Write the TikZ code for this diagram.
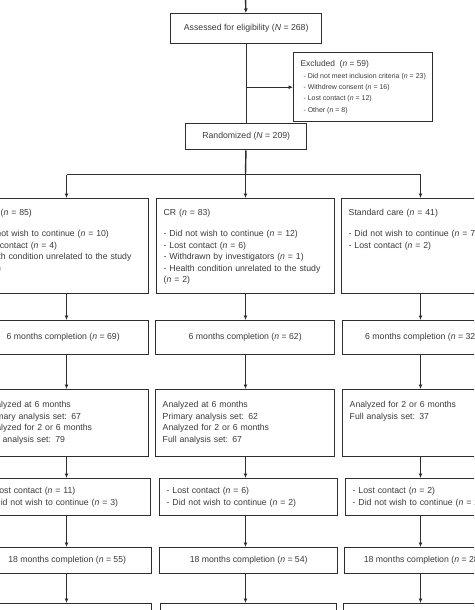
\documentclass[tikz,border=0pt]{standalone}
\usepackage{fontspec}
\setmainfont{Liberation Sans}
\usetikzlibrary{arrows.meta,positioning}
\definecolor{linegray}{HTML}{2E2E2E}
\definecolor{textgray}{HTML}{3A3A3A}
\newcommand{\cnt}[1]{(\textit{n} = #1)}
\newcommand{\Cnt}[1]{(\textit{N} = #1)}

\begin{document}
\begin{tikzpicture}[
  x=1pt, y=-1pt,
  box/.style={rectangle, draw=linegray, line width=1.4pt, text=textgray, inner sep=0pt, anchor=north west, font=\fontsize{8.7}{11.5}\selectfont},
  cbox/.style={box, minimum width=#1, align=center},
  lbox/.style={box, inner xsep=7pt, text width={#1-14pt}, align=left},
  line/.style={draw=linegray, line width=1.4pt},
  link/.style={line, -{Latex[length=4.5pt,width=4pt]}}
]
\useasboundingbox (0,0) rectangle (474,610);
\clip (0,0) rectangle (474,610);

% columns
\coordinate (colA) at (66.5,0);
\coordinate (colB) at (245.5,0);
\coordinate (colC) at (420.5,0);

% enrolment
\coordinate (entry) at (245.5,-5);
\node[cbox=151pt, minimum height=30pt] (assess) at (170,13) {Assessed for eligibility \Cnt{268}};
\node[box, align=left, minimum width=139pt, minimum height=69pt, font=\fontsize{7}{11.4}\selectfont] (excl) at (293,52)
  {{\fontsize{8.4}{11}\selectfont Excluded\ \ \cnt{59}}\\
   \hspace*{3pt}- Did not meet inclusion criteria \cnt{23}\\
   \hspace*{3pt}- Withdrew consent \cnt{16}\\
   \hspace*{3pt}- Lost contact \cnt{12}\\
   \hspace*{3pt}- Other \cnt{8}};
\node[cbox=121pt, minimum height=26pt] (rand) at (185,123) {Randomized \Cnt{209}};
\coordinate (split) at (245.5,174.5);

% withdrawals
\node[lbox=181pt, text height=17pt, text depth=78pt] (wdA) at (-33,198)
  {\hspace*{26pt}\cnt{85}\\[9.5pt]
   - Did not wish to continue \cnt{10}\\
   - Lost contact \cnt{4}\\
   - Health condition unrelated to the study\\
   \cnt{2}};
\node[lbox=178pt, text height=17pt, text depth=78pt] (wdB) at (156,198)
  {CR \cnt{83}\\[9.5pt]
   - Did not wish to continue \cnt{12}\\
   - Lost contact \cnt{6}\\
   - Withdrawn by investigators \cnt{1}\\
   - Health condition unrelated to the study\\
   \cnt{2}};
\node[lbox=179pt, text height=17pt, text depth=78pt] (wdC) at (341,198)
  {Standard care \cnt{41}\\[9.5pt]
   - Did not wish to continue \cnt{7}\\
   - Lost contact \cnt{2}};

% 6 months
\node[cbox=171pt, minimum height=34pt] (sixA) at (-23,320) {6 months completion \cnt{69}};
\node[cbox=179pt, minimum height=34pt] (sixB) at (155,320) {6 months completion \cnt{62}};
\node[cbox=158pt, minimum height=34pt] (sixC) at (342,320) {6 months completion \cnt{32}};

% analysis
\node[lbox=170pt, text height=18pt, text depth=49pt] (anA) at (-22,389)
  {Analyzed at 6 months\\ Primary analysis set: 67\\ Analyzed for 2 or 6 months\\ Full analysis set: 79};
\node[lbox=179pt, text height=18pt, text depth=49pt] (anB) at (155,389)
  {Analyzed at 6 months\\ Primary analysis set: 62\\ Analyzed for 2 or 6 months\\ Full analysis set: 67};
\node[lbox=178pt, text height=18pt, text depth=49pt] (anC) at (342,389)
  {Analyzed for 2 or 6 months\\ Full analysis set: 37};

% losses
\node[lbox=169pt, minimum height=37pt] (lossA) at (-19,478)
  {- Lost contact \cnt{11}\\ - Did not wish to continue \cnt{3}};
\node[lbox=178pt, minimum height=37pt] (lossB) at (159,478)
  {- Lost contact \cnt{6}\\ - Did not wish to continue \cnt{2}};
\node[lbox=175pt, minimum height=37pt] (lossC) at (345,478)
  {- Lost contact \cnt{2}\\ - Did not wish to continue \cnt{2}};

% 18 months
\node[cbox=169pt, minimum height=26pt] (eightA) at (-18,547) {18 months completion \cnt{55}};
\node[cbox=178pt, minimum height=26pt] (eightB) at (159,547) {18 months completion \cnt{54}};
\node[cbox=156pt, minimum height=26pt] (eightC) at (344,547) {18 months completion \cnt{28}};

% next row
\node[cbox=169pt, minimum height=40pt] (nextA) at (-18,603) {};
\node[cbox=176pt, minimum height=40pt] (nextB) at (160,603) {};
\node[cbox=177pt, minimum height=40pt] (nextC) at (343,603) {};

% arrows
\draw[link] (entry) -- (assess);
\draw[line] (assess) -- (rand);
\draw[link] (assess.south |- excl.west) -- (excl.west);
\draw[line] (rand) -- (split);
\draw[line] (split -| colA) -- (split -| colC);
\draw[link] (split -| colA) -- (wdA.north -| colA);
\draw[link] (split) -- (wdB.north -| colB);
\draw[link] (split -| colC) -- (wdC.north -| colC);

\draw[link] (wdA.south -| colA) -- (sixA.north -| colA);
\draw[link] (wdB.south -| colB) -- (sixB.north -| colB);
\draw[link] (wdC.south -| colC) -- (sixC.north -| colC);

\draw[link] (sixA.south -| colA) -- (anA.north -| colA);
\draw[link] (sixB.south -| colB) -- (anB.north -| colB);
\draw[link] (sixC.south -| colC) -- (anC.north -| colC);

\draw[link] (anA.south -| colA) -- (lossA.north -| colA);
\draw[link] (anB.south -| colB) -- (lossB.north -| colB);
\draw[link] (anC.south -| colC) -- (lossC.north -| colC);

\draw[link] (lossA.south -| colA) -- (eightA.north -| colA);
\draw[link] (lossB.south -| colB) -- (eightB.north -| colB);
\draw[link] (lossC.south -| colC) -- (eightC.north -| colC);

\draw[link] (eightA.south -| colA) -- (nextA.north -| colA);
\draw[link] (eightB.south -| colB) -- (nextB.north -| colB);
\draw[link] (eightC.south -| colC) -- (nextC.north -| colC);

\end{tikzpicture}
\end{document}
